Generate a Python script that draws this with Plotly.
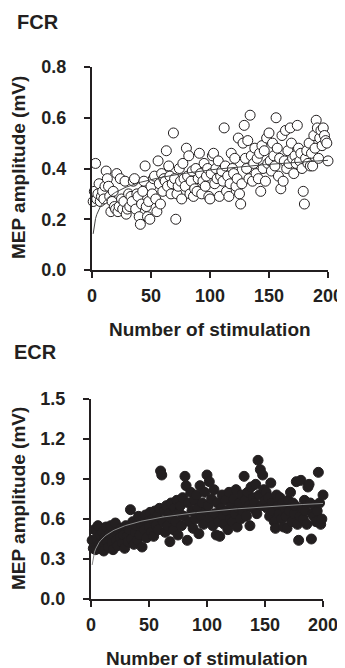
import numpy as np
import plotly.graph_objects as go

# ---------------- data ----------------
stimulation = list(range(1, 201))

fcr_amp = [
    0.27, 0.31, 0.42, 0.28, 0.30, 0.34, 0.27, 0.29, 0.31, 0.28,
    0.33, 0.39, 0.36, 0.33, 0.29, 0.23, 0.27, 0.31, 0.25, 0.24,
    0.38, 0.23, 0.25, 0.36, 0.28, 0.24, 0.27, 0.35, 0.22, 0.24,
    0.30, 0.25, 0.29, 0.27, 0.35, 0.36, 0.24, 0.30, 0.29, 0.21,
    0.18, 0.26, 0.31, 0.35, 0.41, 0.25, 0.21, 0.27, 0.20, 0.33,
    0.30, 0.36, 0.37, 0.28, 0.23, 0.43, 0.34, 0.26, 0.38, 0.31,
    0.36, 0.35, 0.47, 0.33, 0.41, 0.37, 0.30, 0.34, 0.54, 0.36,
    0.20, 0.30, 0.33, 0.40, 0.35, 0.28, 0.42, 0.36, 0.33, 0.48,
    0.37, 0.45, 0.30, 0.35, 0.39, 0.29, 0.32, 0.40, 0.31, 0.36,
    0.46, 0.38, 0.30, 0.35, 0.42, 0.33, 0.37, 0.40, 0.29, 0.28,
    0.38, 0.45, 0.46, 0.34, 0.40, 0.36, 0.43, 0.29, 0.37, 0.39,
    0.35, 0.56, 0.41, 0.31, 0.37, 0.29, 0.34, 0.46, 0.40, 0.38,
    0.44, 0.33, 0.36, 0.52, 0.30, 0.26, 0.34, 0.50, 0.57, 0.44,
    0.40, 0.51, 0.36, 0.61, 0.45, 0.35, 0.42, 0.48, 0.38, 0.44,
    0.36, 0.46, 0.31, 0.49, 0.40, 0.47, 0.35, 0.52, 0.42, 0.54,
    0.43, 0.39, 0.50, 0.45, 0.41, 0.60, 0.48, 0.37, 0.44, 0.32,
    0.53, 0.35, 0.43, 0.55, 0.40, 0.47, 0.42, 0.56, 0.50, 0.44,
    0.38, 0.45, 0.42, 0.57, 0.48, 0.43, 0.46, 0.40, 0.31, 0.26,
    0.44, 0.47, 0.42, 0.50, 0.41, 0.46, 0.41, 0.53, 0.48, 0.59,
    0.56, 0.44, 0.52, 0.55, 0.49, 0.56, 0.53, 0.51, 0.50, 0.43,
]

ecr_amp = [
    0.44, 0.38, 0.52, 0.37, 0.45, 0.55, 0.41, 0.48, 0.40, 0.50,
    0.36, 0.46, 0.54, 0.43, 0.39, 0.49, 0.55, 0.42, 0.37, 0.47,
    0.57, 0.44, 0.40, 0.51, 0.46, 0.53, 0.42, 0.48, 0.38, 0.55,
    0.47, 0.43, 0.52, 0.67, 0.45, 0.58, 0.41, 0.50, 0.55, 0.44,
    0.62, 0.48, 0.56, 0.39, 0.60, 0.52, 0.63, 0.46, 0.58, 0.54,
    0.65, 0.50, 0.60, 0.47, 0.66, 0.55, 0.62, 0.52, 0.68, 0.96,
    0.93, 0.58, 0.66, 0.50, 0.70, 0.55, 0.64, 0.43, 0.72, 0.60,
    0.52, 0.68, 0.58, 0.74, 0.48, 0.65, 0.70, 0.55, 0.76, 0.62,
    0.92, 0.85, 0.44, 0.72, 0.58, 0.80, 0.66, 0.53, 0.74, 0.60,
    0.78, 0.68, 0.49, 0.85, 0.62, 0.72, 0.56, 0.80, 0.66, 0.93,
    0.70, 0.88, 0.60, 0.75, 0.55, 0.82, 0.64, 0.48, 0.72, 0.58,
    0.47, 0.68, 0.78, 0.62, 0.56, 0.74, 0.66, 0.52, 0.80, 0.60,
    0.70, 0.58, 0.75, 0.64, 0.82, 0.54, 0.68, 0.72, 0.60, 0.78,
    0.66, 0.92, 0.74, 0.62, 0.80, 0.70, 0.55, 0.84, 0.68, 0.76,
    0.72, 0.86, 0.64, 1.04, 0.78, 0.97, 0.70, 0.93, 0.82, 0.74,
    0.80, 0.68, 0.76, 0.62, 0.87, 0.72, 0.66, 0.58, 0.53, 0.78,
    0.70, 0.64, 0.76, 0.60, 0.72, 0.54, 0.68, 0.62, 0.53, 0.74,
    0.66, 0.80, 0.58, 0.72, 0.64, 0.70, 0.88, 0.56, 0.44, 0.62,
    0.89, 0.68, 0.60, 0.74, 0.66, 0.56, 0.84, 0.86, 0.72, 0.45,
    0.64, 0.62, 0.70, 0.58, 0.66, 0.95, 0.72, 0.56, 0.60, 0.78,
]

fcr_ticks = [0.0, 0.2, 0.4, 0.6, 0.8]
ecr_ticks = [0.0, 0.3, 0.6, 0.9, 1.2, 1.5]
x_ticks = [0, 50, 100, 150, 200]


def log_fit(x, y):
    lx = np.log(np.asarray(x, dtype=float))
    b, a = np.polyfit(lx, np.asarray(y, dtype=float), 1)
    return list(a + b * lx)


fcr_fit = log_fit(stimulation, fcr_amp)
ecr_fit = log_fit(stimulation, ecr_amp)

# ---------------- figure ----------------
# The page body keeps an 8 px default margin, so the figure is drawn
# 8 px smaller and positions are given in window pixels minus that offset.
OFF = 8
W, H = 345 - OFF, 668 - OFF
FONT = "Liberation Sans, Arial, Helvetica, sans-serif"
INK = "#231f20"


def px_x(p):
    return (p - OFF) / W


def px_y(p):
    return 1 - (p - OFF) / H


fig = go.Figure()

fig.add_trace(go.Scatter(
    x=stimulation, y=fcr_amp, mode="markers", xaxis="x", yaxis="y",
    marker=dict(size=10, color="white", line=dict(color=INK, width=1)),
    cliponaxis=False, showlegend=False))
fig.add_trace(go.Scatter(
    x=stimulation, y=fcr_fit, mode="lines", xaxis="x", yaxis="y",
    line=dict(color="#444444", width=1), showlegend=False))

fig.add_trace(go.Scatter(
    x=stimulation, y=ecr_amp, mode="markers", xaxis="x2", yaxis="y2",
    marker=dict(size=10, color=INK, line=dict(color=INK, width=1)),
    cliponaxis=False, showlegend=False))
fig.add_trace(go.Scatter(
    x=stimulation, y=ecr_fit, mode="lines", xaxis="x2", yaxis="y2",
    line=dict(color="#8a8a8a", width=1), showlegend=False))

tickfont = dict(family=FONT, size=18, color=INK, weight="bold")

common_x = dict(range=[0, 200], tickvals=x_ticks, showline=True, linecolor=INK,
                linewidth=2, ticks="outside", ticklen=6, tickwidth=2, tickcolor=INK,
                showgrid=False, zeroline=False, tickfont=tickfont,
                ticklabelstandoff=2, automargin=False)
common_y = dict(showline=True, linecolor=INK, linewidth=2, ticks="outside",
                ticklen=6, tickwidth=2, tickcolor=INK, showgrid=False,
                zeroline=False, tickfont=tickfont, ticklabelstandoff=14,
                automargin=False)

fig.update_layout(
    template="none",
    width=W, height=H,
    margin=dict(l=0, r=0, t=0, b=0, pad=0),
    paper_bgcolor="white", plot_bgcolor="white",
    xaxis=dict(domain=[px_x(92), px_x(328)], anchor="y", **common_x),
    yaxis=dict(domain=[px_y(270), px_y(67)], anchor="x", range=[0, 0.8],
               tickvals=fcr_ticks, tickformat=".1f", **common_y),
    xaxis2=dict(domain=[px_x(91), px_x(323)], anchor="y2", **common_x),
    yaxis2=dict(domain=[px_y(599), px_y(399)], anchor="x2", range=[0, 1.5],
                tickvals=ecr_ticks, tickformat=".1f", **common_y),
)

title_font = dict(family=FONT, size=19, color=INK, weight="bold")
panel_font = dict(family=FONT, size=20, color=INK, weight="bold")

annotations = [
    dict(text="FCR", x=px_x(15), y=px_y(22), xanchor="left", yanchor="middle",
         font=panel_font),
    dict(text="ECR", x=px_x(12), y=px_y(352), xanchor="left", yanchor="middle",
         font=panel_font),
    dict(text="Number of stimulation", x=px_x(210), y=px_y(330),
         xanchor="center", yanchor="middle", font=title_font),
    dict(text="Number of stimulation", x=px_x(207), y=px_y(658),
         xanchor="center", yanchor="middle", font=title_font),
    dict(text="MEP amplitude (mV)", x=px_x(18), y=px_y(168), textangle=-90,
         xanchor="center", yanchor="middle", font=title_font),
    dict(text="MEP amplitude (mV)", x=px_x(18), y=px_y(499), textangle=-90,
         xanchor="center", yanchor="middle", font=title_font),
]
for a in annotations:
    a.update(xref="paper", yref="paper", showarrow=False)
fig.update_layout(annotations=annotations)

fig.write_html("out.html")
